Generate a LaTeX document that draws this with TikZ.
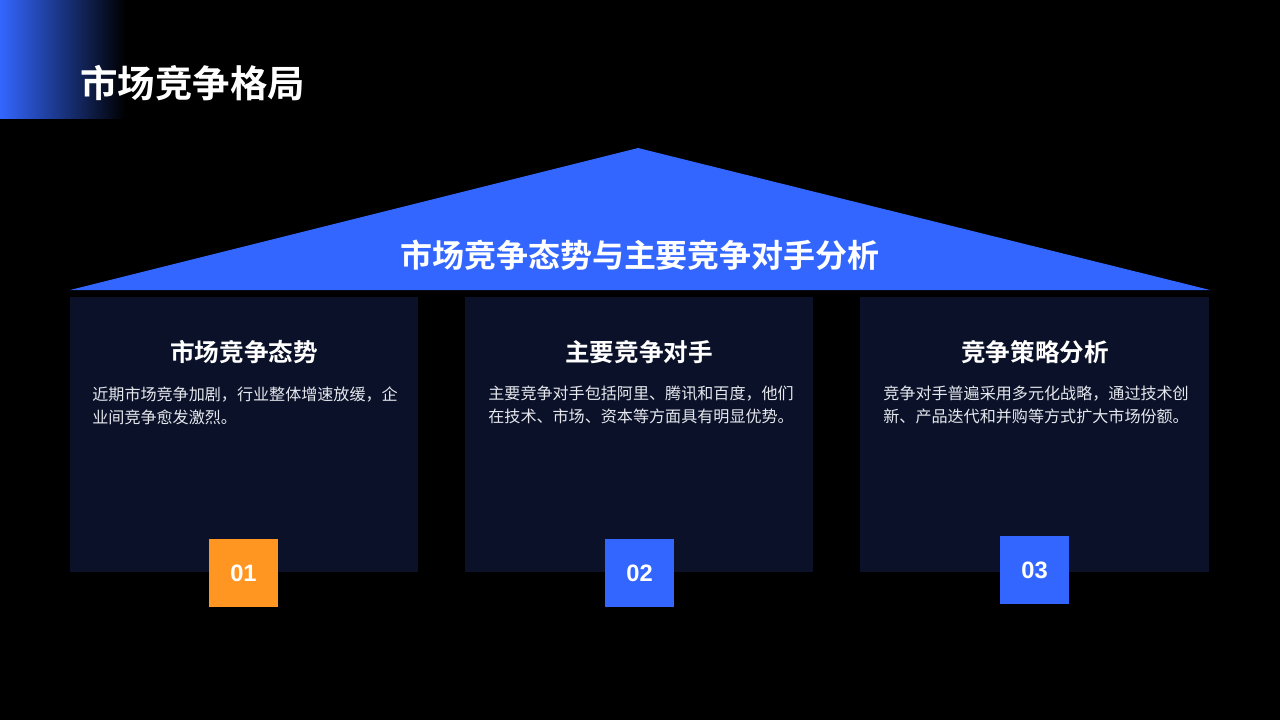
\documentclass[tikz,border=0pt]{standalone}
\usepackage{fontspec}
\setmainfont{Liberation Sans}
\newfontfamily\cjk{Noto Sans CJK SC}
\newfontfamily\cjkb{Noto Sans CJK SC Bold}
\definecolor{bluemain}{HTML}{3366FF}
\definecolor{boxbg}{HTML}{0A1128}
\definecolor{orangec}{HTML}{FF9622}
\definecolor{bodyc}{HTML}{E6E8EE}
\tikzset{
 card/.style={fill=boxbg,draw=none},
 head/.style={text=white,font=\cjkb\fontsize{14}{17}\selectfont},
 body/.style={text=bodyc,font=\cjk\fontsize{9.15}{13.1}\selectfont,align=left,anchor=north west,inner sep=0},
 num/.style={text=white,font=\bfseries\fontsize{13.5}{16}\selectfont,minimum size=39pt,inner sep=0}
}
\begin{document}
\begin{tikzpicture}[x=0.02cm,y=-0.02cm]
\fill[black] (0,0) rectangle (1280,720);
\useasboundingbox (0,0) rectangle (1280,720);
\shade[left color=bluemain,right color=black] (0,0) rectangle (125,118);
\node[text=white,font=\cjkb\fontsize{21.3}{24}\selectfont,anchor=west,inner sep=0] (title) at (80,83) {市场竞争格局};
\fill[bluemain] (638,148) -- (1210,290) -- (70,290) -- cycle;
\node[text=white,font=\cjkb\fontsize{18.2}{21}\selectfont] (roof) at (640,255) {市场竞争态势与主要竞争对手分析};
\fill[card] (70,297) rectangle (418,572);
\fill[card] (465,297) rectangle (813,572);
\fill[card] (860,297) rectangle (1209,572);
\node[head] (h1) at (244,352) {市场竞争态势};
\node[head] (h2) at (639,352) {主要竞争对手};
\node[head] (h3) at (1035,352) {竞争策略分析};
\node[body] (b1) at (92,386) {近期市场竞争加剧，行业整体增速放缓，企\\业间竞争愈发激烈。};
\node[body] (b2) at (488,386) {主要竞争对手包括阿里、腾讯和百度，他们\\在技术、市场、资本等方面具有明显优势。};
\node[body] (b3) at (883,386) {竞争对手普遍采用多元化战略，通过技术创\\新、产品迭代和并购等方式扩大市场份额。};
\node[num,fill=orangec] (n1) at (243.5,573) {01};
\node[num,fill=bluemain] (n2) at (639.5,573) {02};
\node[num,fill=bluemain] (n3) at (1034.5,570) {03};
\end{tikzpicture}
\end{document}
